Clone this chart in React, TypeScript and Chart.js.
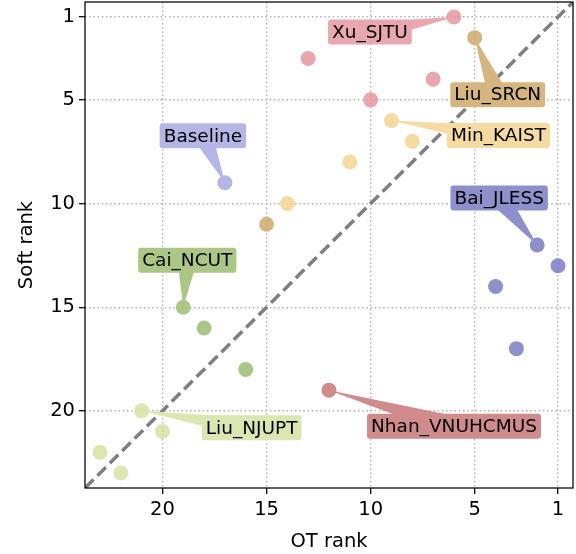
import React, { useEffect, useRef } from "react";
import { Chart, registerables } from "chart.js";

Chart.register(...registerables);

// ---- data ----
const teams = ["Xu_SJTU", "Liu_SRCN", "Min_KAIST", "Baseline", "Bai_JLESS", "Cai_NCUT", "Nhan_VNUHCMUS", "Liu_NJUPT"];
const otRanks = [[6, 13, 7, 10], [5, 15], [9, 8, 11, 14], [17], [2, 1, 4, 3], [19, 18, 16], [12], [21, 20, 23, 22]];
const softRanks = [[1, 3, 4, 5], [2, 11], [6, 7, 8, 10], [9], [12, 13, 14, 17], [15, 16, 18], [19], [20, 21, 22, 23]];
const tickValues = [1, 5, 10, 15, 20];
const axisMin = 0.28;
const axisMax = 23.72;

// ---- styles ----
const teamColors = ["#e9a7af", "#d5b680", "#f5dba2", "#b4b6e6", "#8d90cb", "#abc686", "#d08b8c", "#dbe6b1"];
const labelOffsets = [[-84, 15], [23, 57], [107, 15], [-22, -47], [-38, -47], [4, -47], [125, 36], [110, 17]];
const FONT = '"DejaVu Sans", sans-serif';
const TICK_SIZE = 19.5;
const LABEL_SIZE = 18.5;

function alphaColor(hex: string, a: number) {
  const r = parseInt(hex.slice(1, 3), 16), g = parseInt(hex.slice(3, 5), 16), b = parseInt(hex.slice(5, 7), 16);
  const f = (c: number) => Math.max(0, Math.round((c - (1 - a) * 255) / a));
  return `rgba(${f(r)},${f(g)},${f(b)},${a})`;
}

const annotPlugin = {
  id: "annots",
  afterDatasetsDraw(chart: any) {
    const { ctx, scales } = chart;
    const xs = scales.x, ys = scales.y;
    ctx.save();
    ctx.font = `${LABEL_SIZE}px ${FONT}`;
    teams.forEach((name, i) => {
      const px = xs.getPixelForValue(otRanks[i][0]);
      const py = ys.getPixelForValue(softRanks[i][0]);
      const cx = px + labelOffsets[i][0];
      const cy = py + labelOffsets[i][1];
      const color = teamColors[i];
      const ang = Math.atan2(py - cy, px - cx);
      const hw = 10;
      const nx = -Math.sin(ang) * hw, ny = Math.cos(ang) * hw;
      ctx.fillStyle = color;
      ctx.beginPath();
      ctx.moveTo(cx + nx, cy + ny);
      ctx.lineTo(px, py);
      ctx.lineTo(cx - nx, cy - ny);
      ctx.closePath();
      ctx.fill();
      const tw = ctx.measureText(name).width;
      const w = tw + 8, h = 25;
      ctx.beginPath();
      ctx.roundRect(cx - w / 2, cy - h / 2, w, h, 3);
      ctx.fill();
      ctx.fillStyle = "#000";
      ctx.textAlign = "center";
      ctx.textBaseline = "middle";
      ctx.fillText(name, cx, cy + 1);
    });
    ctx.restore();
  },
  afterDraw(chart: any) {
    const { ctx, chartArea } = chart;
    ctx.save();
    ctx.strokeStyle = "#000";
    ctx.lineWidth = 1.25;
    ctx.strokeRect(chartArea.left, chartArea.top, chartArea.right - chartArea.left, chartArea.bottom - chartArea.top);
    ctx.restore();
  },
};

export default function App() {
  const ref = useRef<HTMLCanvasElement>(null);
  useEffect(() => {
    if (!ref.current) return;
    const datasets: any[] = teams.map((name, i) => ({
      label: name,
      data: otRanks[i].map((v, j) => ({ x: v, y: softRanks[i][j] })),
      backgroundColor: alphaColor(teamColors[i], 0.85),
      borderWidth: 0,
      pointRadius: 7.5,
      pointHoverRadius: 7.5,
    }));
    datasets.push({
      label: "diag",
      data: [{ x: axisMax, y: axisMax }, { x: axisMin, y: axisMin }],
      showLine: true,
      borderColor: "#7f7f7f",
      borderWidth: 3.5,
      borderDash: [12, 5.5],
      pointRadius: 0,
      fill: false,
    });
    const tickCfg = (axis: any) => {
      axis.ticks = tickValues.map((v) => ({ value: v }));
    };
    const gridCfg = {
      color: "#b0b0b0",
      lineWidth: 1.4,
      drawTicks: true,
      tickLength: 6,
      tickColor: "#000",
      tickWidth: 1.25,
      tickBorderDash: [],
    };
    const chart = new Chart(ref.current, {
      type: "scatter",
      data: { datasets },
      plugins: [annotPlugin],
      options: {
        animation: false,
        responsive: false,
        events: [],
        layout: { autoPadding: false, padding: { top: 2, right: 3, left: 0, bottom: 0 } },
        plugins: { legend: { display: false }, tooltip: { enabled: false } },
        scales: {
          x: {
            type: "linear",
            reverse: true,
            min: axisMin,
            max: axisMax,
            afterBuildTicks: tickCfg,
            afterFit: (s: any) => { s.height = 66; s.paddingLeft = 0; s.paddingRight = 0; },
            grid: gridCfg as any,
            border: { display: false, dash: [1.5, 2.7] },
            ticks: { color: "#000", font: { family: FONT, size: TICK_SIZE }, padding: 4, maxRotation: 0, autoSkip: false, callback: (v: any) => String(v) },
            title: { display: true, text: "OT rank", color: "#000", font: { family: FONT, size: TICK_SIZE }, padding: { top: 0, bottom: 0 } },
          },
          y: {
            type: "linear",
            reverse: true,
            min: axisMin,
            max: axisMax,
            afterBuildTicks: tickCfg,
            afterFit: (s: any) => { s.width = 85; s.paddingTop = 0; s.paddingBottom = 0; },
            grid: gridCfg as any,
            border: { display: false, dash: [1.5, 2.7] },
            ticks: { color: "#000", font: { family: FONT, size: TICK_SIZE }, padding: 4, autoSkip: false, callback: (v: any) => String(v) },
            title: { display: true, text: "Soft rank", color: "#000", font: { family: FONT, size: TICK_SIZE }, padding: { top: 15, bottom: 0 } },
          },
        },
      } as any,
    });
    return () => chart.destroy();
  }, []);
  return (
    <div style={{ position: "absolute", left: 0, top: 0, width: 576, height: 554, background: "#fff" }}>
      <canvas ref={ref} width={576} height={554} style={{ display: "block" }} />
    </div>
  );
}
